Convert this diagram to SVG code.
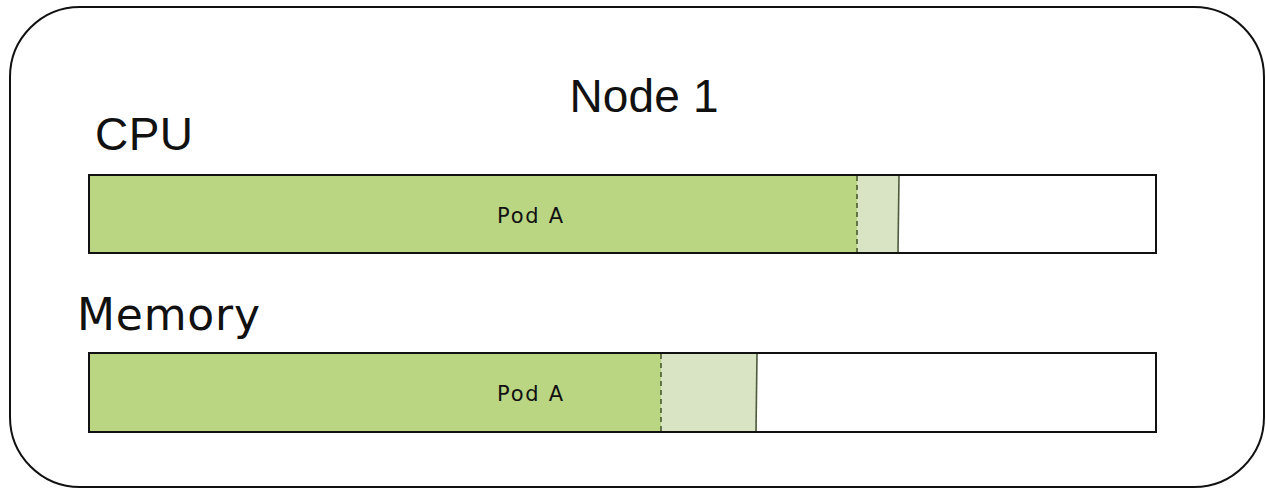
<svg xmlns="http://www.w3.org/2000/svg" width="1266" height="489" viewBox="0 0 1266 489">
<style>
.title{font-family:"Liberation Sans",Arial,sans-serif;font-size:46px;fill:#111}
.wide{font-family:"DejaVu Sans",Verdana,sans-serif;font-size:44px;fill:#111}
.pod{font-family:"DejaVu Sans",Verdana,sans-serif;font-size:21px;fill:#111}
.used{fill:#bad683}
.extra{fill:#d9e4c4}
.frame{fill:none;stroke:#111;stroke-width:2}
.dash{stroke:#4a5a2e;stroke-width:1.6;stroke-dasharray:5,4}
.div{stroke:#4d5a3c;stroke-width:1.6}
</style>
<g id="node1">
<rect x="10" y="7" width="1254" height="480" rx="70" ry="70" fill="#fff" stroke="#111" stroke-width="2"/>
<text class="title" x="644" y="112" text-anchor="middle" textLength="149">Node 1</text>
</g>
<g id="cpu">
<text class="title" x="95" y="150" textLength="98">CPU</text>
<rect x="89" y="175" width="1067" height="78" fill="#fff"/>
<rect class="used" x="89" y="175" width="768" height="78"/>
<rect class="extra" x="857" y="175" width="42" height="78"/>
<line class="dash" x1="857" y1="176" x2="857" y2="252"/>
<line class="div" x1="899" y1="176" x2="898" y2="252"/>
<rect class="frame" x="89" y="175" width="1067" height="78"/>
<text class="pod" x="530" y="223" text-anchor="middle" textLength="66">Pod A</text>
</g>
<g id="memory">
<text class="wide" x="77" y="330" textLength="183">Memory</text>
<rect x="89" y="353" width="1067" height="79" fill="#fff"/>
<rect class="used" x="89" y="353" width="572" height="79"/>
<rect class="extra" x="661" y="353" width="96" height="79"/>
<line class="dash" x1="661" y1="354" x2="661" y2="431"/>
<line class="div" x1="757" y1="354" x2="756" y2="431"/>
<rect class="frame" x="89" y="353" width="1067" height="79"/>
<text class="pod" x="530" y="401" text-anchor="middle" textLength="66">Pod A</text>
</g>
<g id="connectors"/>
</svg>
